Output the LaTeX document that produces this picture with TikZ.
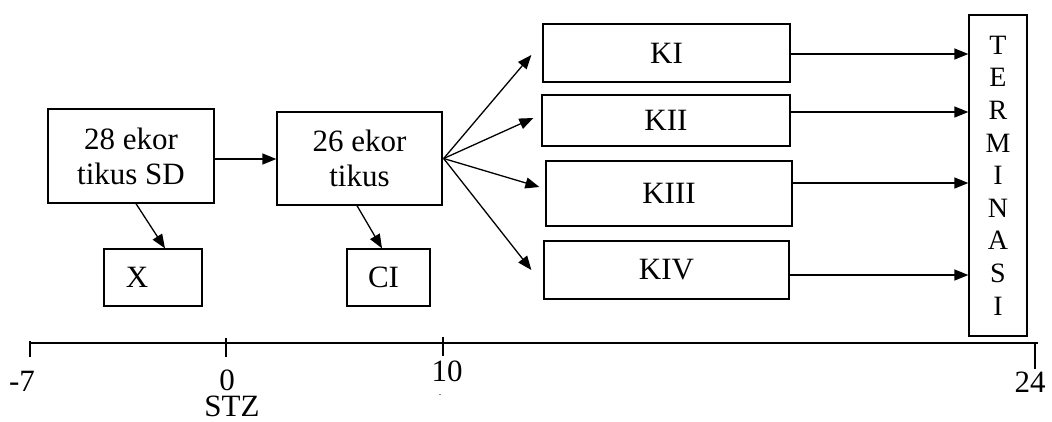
\documentclass[tikz,border=0pt]{standalone}
\usepackage{fontspec}
\setmainfont{Liberation Serif}
\usetikzlibrary{arrows.meta,calc}
\begin{document}
\begin{tikzpicture}[x=1pt,y=-1pt,
  box/.style={draw,line width=1.3pt,inner sep=0pt,align=center,font=\fontsize{31}{35}\selectfont},
  conn/.style={line width=1.3pt,-{Triangle[length=14pt,width=11pt]}},
  axis/.style={line width=1.4pt},
  lbl/.style={font=\fontsize{31}{35}\selectfont,inner sep=0pt}]
\useasboundingbox (0,0) rectangle (1052,421);
% boxes
\node[box,minimum width=166pt,minimum height=94pt] (A) at (131,156) {28 ekor\\tikus SD};
\node[box,minimum width=165pt,minimum height=93pt] (B) at (359.5,158.5) {26 ekor\\tikus};
\node[box,minimum width=98pt,minimum height=57pt] (X) at (153,277.5) {X\hspace{32pt}};
\node[box,minimum width=83pt,minimum height=57pt] (CI) at (388.5,277.5) {CI\hspace{10pt}};
\node[box,minimum width=247pt,minimum height=58pt] (K1) at (666.5,53) {KI};
\node[box,minimum width=248pt,minimum height=51pt] (K2) at (666,120.5) {KII};
\node[box,minimum width=246pt,minimum height=65pt] (K3) at (669,193.5) {KIII};
\node[box,minimum width=245pt,minimum height=58pt] (K4) at (666.5,270) {KIV};
\node[box,minimum width=58pt,minimum height=321pt,font=\fontsize{28}{32.6}\selectfont] (term) at (998,175.5) {T\\E\\R\\M\\I\\N\\A\\S\\I};
% connectors
\draw[conn] ([yshift=-3pt]A.east) -- ([yshift=-0.5pt]B.west);
\draw[conn] ([xshift=5pt]A.south) -- ([xshift=12pt]X.north);
\draw[conn] ([xshift=-2.5pt]B.south) -- ([xshift=-6.5pt]CI.north);
\coordinate (fan) at ([xshift=1pt]B.east);
\draw[conn] (fan) -- ($(K1.west)+(-11,2)$);
\draw[conn] (fan) -- ($(K2.west)+(-8,-2.5)$);
\draw[conn] (fan) -- ($(K3.west)+(-6,-6.5)$);
\draw[conn] (fan) -- ($(K4.west)+(-12,0)$);
\draw[conn] ([yshift=-1pt]K1.east) -- ([yshift=-1pt]K1.east -| term.west);
\draw[conn] ([yshift=8.5pt]K2.east) -- ([yshift=8.5pt]K2.east -| term.west);
\draw[conn] ([yshift=10.5pt]K3.east) -- ([yshift=10.5pt]K3.east -| term.west);
\draw[conn] ([yshift=-5pt]K4.east) -- ([yshift=-5pt]K4.east -| term.west);
% time axis
\draw[axis] (30,343) -- (1038,343);
\draw[axis] (30,341) -- (30,357);
\draw[axis] (226,338) -- (226,357);
\draw[axis] (443,337) -- (443,356);
\draw[axis] (1035,343) -- (1035,369);
\node[lbl] (t1) at (22,381) {-7};
\node[lbl] (t2) at (227,380) {0};
\node[lbl] (t3) at (232,406) {STZ};
\node[lbl] (t4) at (447,371) {10};
\node[lbl,font=\fontsize{10}{12}\selectfont] (t5) at (440,395) {.};
\node[lbl] (t6) at (1030,382) {24};
\end{tikzpicture}
\end{document}
